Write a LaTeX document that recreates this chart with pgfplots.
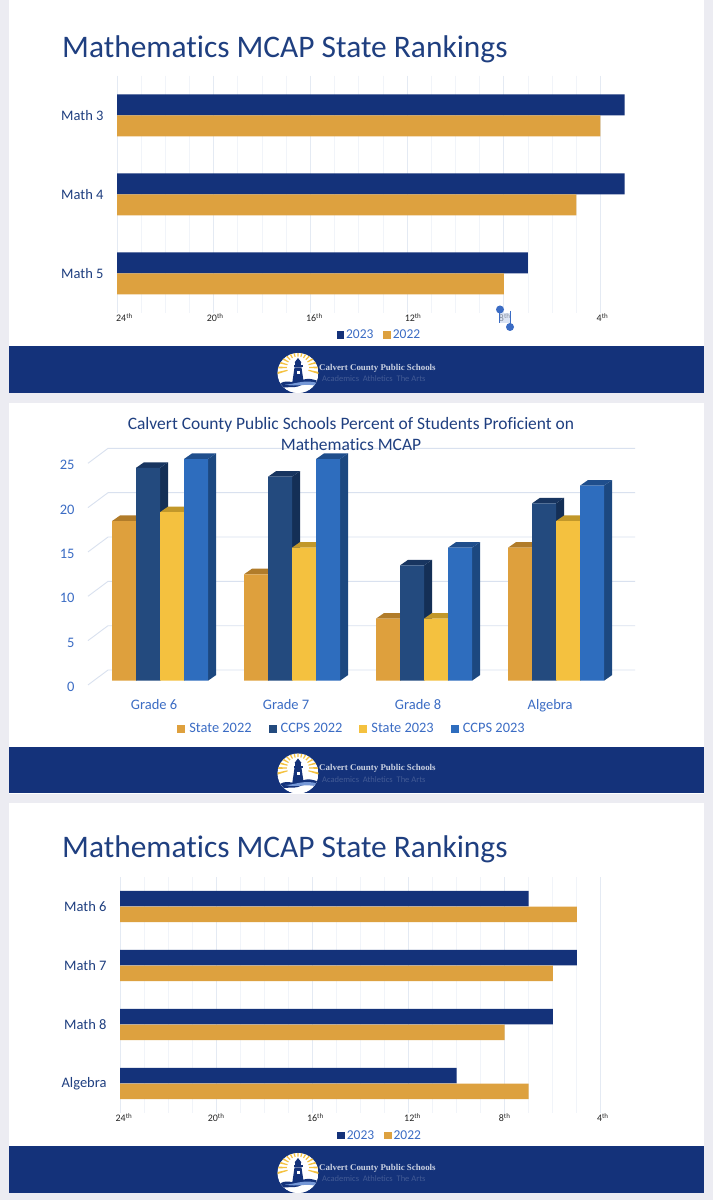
\documentclass[border=0pt]{standalone}
\usepackage{pgfplots}
\pgfplotsset{compat=1.18}
\usepackage{fontspec}
\setmainfont{Carlito}[Ligatures=NoCommon]
\newfontfamily\slab{Liberation Serif}
\definecolor{pagebg}{HTML}{ECECF2}
\definecolor{navy}{HTML}{14327A}
\definecolor{gold}{HTML}{DDA13F}
\definecolor{titleblue}{HTML}{1F3F80}
\definecolor{labelblue}{HTML}{1F3F80}
\definecolor{axblue}{HTML}{3B6CC4}
\definecolor{gridmaj}{HTML}{E4EAF3}
\definecolor{gridmin}{HTML}{F1F4F9}
\definecolor{wall}{HTML}{D9E1EF}
\definecolor{sA}{HTML}{DEA03D}\definecolor{sAt}{HTML}{B17C2A}
\definecolor{sB}{HTML}{234A7E}\definecolor{sBs}{HTML}{142F56}\definecolor{sBt}{HTML}{183560}
\definecolor{sC}{HTML}{F4C13F}\definecolor{sCt}{HTML}{C2982A}
\definecolor{sD}{HTML}{2E6DBE}\definecolor{sDs}{HTML}{1C4880}\definecolor{sDt}{HTML}{1F4E8C}
\newcommand\fs[1]{\fontsize{#1}{#1}\selectfont}
% tick label shifted right by #2 pt from its gridline, as in the reference
\newcommand\lab[2]{\hspace*{#2pt}#1\textsuperscript{th}}
\pgfplotsset{
  sq/.style={legend image code/.code={\fill[##1,draw=none] (0pt,-3.6pt) rectangle (7.4pt,3.8pt);}},
  sqb/.style={legend image code/.code={\fill[##1,draw=none] (0pt,-3.6pt) rectangle (8pt,3.8pt);\path[draw=none,fill=none] (0pt,0pt) -- (10pt,0pt);}},
  rank/.style={
    scale only axis, xmin=0, xmax=23, y dir=reverse,
    xtick={0,4,8,12,16,20}, minor x tick num=3,
    x filter/.code={\pgfmathparse{24-##1}},
    xmajorgrids, xminorgrids,
    major grid style={gridmaj,line width=.8pt}, minor grid style={gridmin,line width=.8pt},
    axis line style={draw=none}, tick style={draw=none}, minor tick style={draw=none},
    x tick label style={font=\fs{10}, text=black!85},
    xtick pos=bottom, ytick pos=left,
    tick label style={inner sep=0pt},
    y tick label style={font=\fs{14.5}, text=labelblue},
    tick align=outside,
    legend style={draw=none,fill=none,font=\fs{13.5},text=axblue,legend columns=2,anchor=center,
      /tikz/every even column/.append style={column sep=8pt}, inner sep=0pt},
    legend cell align=left,
  },
}
\newcommand\faces[4]{%
  \pgfmathsetmacro\xr{#1+0.1818}%
  \pgfmathsetmacro\xrd{#1+0.1818+0.0606}%
  \pgfmathsetmacro\xld{#1+0.0606}%
  \pgfmathsetmacro\vd{#2+0.63}%
  \addplot[forget plot,fill=#3,draw=none] coordinates {(\xr,0) (\xrd,0.63) (\xrd,\vd) (\xr,#2)} -- cycle;
  \addplot[forget plot,fill=#4,draw=none] coordinates {(#1,#2) (\xr,#2) (\xrd,\vd) (\xld,\vd)} -- cycle;
}
\newcommand\banner[1]{%
  \begin{scope}[shift={(0,#1)}]
    \fill[navy] (9,0) rectangle (704,46.5);
    \begin{scope}
      \clip (298,26.5) ellipse (20.5 and 20);
      \fill[white] (277,5) rectangle (319,47);
      \foreach \a in {-15,0,...,195}{
        \fill[sC] (298,21) -- ++({-\a-2.8}:25) -- ++({-\a+90}:2.4) -- cycle;}
      \fill[white] (298,21) circle (11);
      \fill[white] (277,34) rectangle (319,47);
      \fill[navy] (295,16) rectangle (301,19);
      \fill[navy] (298,11.5) -- (294.5,16) -- (301.5,16) -- cycle;
      \fill[navy] (293.5,19) rectangle (302.5,21);
      \fill[navy] (294.5,21) -- (301.5,21) -- (304,38) -- (292,38) -- cycle;
      \fill[white] (296.5,25) rectangle (299.5,28);
      \fill[navy] (277,39) .. controls (287,31) and (292,38) .. (298,35) .. controls (304,32) and (310,31) .. (319,35) -- (319,38) .. controls (310,35) and (305,37) .. (298,40) .. controls (292,42) and (285,39) .. (277,43) -- cycle;
      \fill[axblue!70] (285,38) .. controls (295,38) and (305,32) .. (319,37) -- (319,40) .. controls (305,36) and (298,41) .. (285,38) -- cycle;
    \end{scope}
    \node[anchor=west,inner sep=0,text=white!78!navy,font=\slab\bfseries\fs{8.9}] at (319,21.5) {Calvert County Public Schools};
    \node[anchor=west,inner sep=0,text=white!20!navy,font=\fs{8.5}] at (322,32.5) {Academics \ Athletics \ The Arts};
  \end{scope}
}
\begin{document}
\begin{tikzpicture}[x=1pt,y=1pt]
\useasboundingbox (0pt,0pt) rectangle (713pt,1200pt);
\fill[pagebg] (0pt,0pt) rectangle (713pt,1200pt);
\begin{scope}[y=-1pt,shift={(0pt,1200pt)}]
  \fill[white] (9,0) rectangle (704,393);
  \fill[white] (9,403) rectangle (704,794);
  \fill[white] (9,803) rectangle (704,1193);
  \banner{346.5}
  \banner{747}
  \banner{1146.5}
  \node[anchor=base west,inner sep=0,text=titleblue,font=\fs{31.4}] at (62,58) {Mathematics MCAP State Rankings};
  \node[anchor=base west,inner sep=0,text=titleblue,font=\fs{31.4}] at (62,858) {Mathematics MCAP State Rankings};
\end{scope}

% ---- chart 1
\begin{axis}[rank, at={(117pt,1124pt)}, anchor=north west, width=556pt, height=237pt,
  ymin=-0.5, ymax=2.5, ytick={0,1,2}, yticklabels={Math 3,Math 4,Math 5},
  xticklabels={\lab{24}{15},\lab{20}{3},\lab{16}{8},\lab{12}{12},\lab{8}{2},\lab{4}{4}},
  yticklabel style={xshift=-9pt,yshift=-0.5pt}, xticklabel style={yshift=4pt},
  legend style={at={(0.472,-0.094)}}]
\addlegendimage{sq,fill=navy}\addlegendentry{2023}
\addlegendimage{sq,fill=gold}\addlegendentry{2022}
\addplot[forget plot,xbar,bar width=0.2658,bar shift=-0.1329,fill=navy,draw=none] coordinates {(3,0) (3,1) (7,2)};
\addplot[forget plot,xbar,bar width=0.2658,bar shift=0.1329,fill=gold,draw=none] coordinates {(4,0) (5,1) (8,2)};
\end{axis}

% ---- chart 3
\begin{axis}[rank, at={(120pt,323pt)}, anchor=north west, width=553pt, height=236pt,
  ymin=-0.5, ymax=3.5, ytick={0,1,2,3}, yticklabels={Math 6,Math 7,Math 8,Algebra},
  xticklabels={\lab{24}{8},\lab{20}{0},\lab{16}{6},\lab{12}{8},\lab{8}{0},\lab{4}{4}},
  yticklabel style={xshift=-9pt,yshift=-0.5pt}, xticklabel style={yshift=4pt},
  legend style={at={(0.4705,-0.097)}}]
\addlegendimage{sq,fill=navy}\addlegendentry{2023}
\addlegendimage{sq,fill=gold}\addlegendentry{2022}
\addplot[forget plot,xbar,bar width=0.2627,bar shift=-0.1314,fill=navy,draw=none] coordinates {(7,0) (5,1) (6,2) (10,3)};
\addplot[forget plot,xbar,bar width=0.2627,bar shift=0.1314,fill=gold,draw=none] coordinates {(5,0) (6,1) (8,2) (7,3)};
\end{axis}

% ---- chart 2
\begin{axis}[scale only axis, at={(88pt,510pt)}, anchor=south west, width=547pt, height=245pt,
  xmin=-0.5455, xmax=3.598, ymin=-1.05, ymax=26.58,
  axis line style={draw=none}, tick style={draw=none},
  xtick={-0.045,0.955,1.955,2.955}, xticklabels={Grade 6,Grade 7,Grade 8,Algebra},
  ytick={-0.48,4.52,9.52,14.52,19.52,24.52}, yticklabels={0,5,10,15,20,25},
  tick label style={font=\fs{14.5},text=axblue},
  xticklabel style={yshift=-6pt}, yticklabel style={xshift=-10pt,yshift=-2pt},
  legend style={draw=none,fill=none,font=\fs{14.4},text=axblue,legend columns=4,anchor=center,
    at={(0.4826,-0.159)},inner sep=0pt,/tikz/every even column/.append style={column sep=15pt}},
  legend cell align=left, clip=false]
\addlegendimage{sqb,fill=sA}\addlegendentry{State 2022}
\addlegendimage{sqb,fill=sB}\addlegendentry{CCPS 2022}
\addlegendimage{sqb,fill=sC}\addlegendentry{State 2023}
\addlegendimage{sqb,fill=sD}\addlegendentry{CCPS 2023}
\addplot[forget plot,wall,line width=.9pt] coordinates {(-0.5455,-0.48) (-0.394,1.2) (3.598,1.2)};
\addplot[forget plot,wall,line width=.9pt] coordinates {(-0.5455,4.52) (-0.394,6.2) (3.598,6.2)};
\addplot[forget plot,wall,line width=.9pt] coordinates {(-0.5455,9.52) (-0.394,11.2) (3.598,11.2)};
\addplot[forget plot,wall,line width=.9pt] coordinates {(-0.5455,14.52) (-0.394,16.2) (3.598,16.2)};
\addplot[forget plot,wall,line width=.9pt] coordinates {(-0.5455,19.52) (-0.394,21.2) (3.598,21.2)};
\addplot[forget plot,wall,line width=.9pt] coordinates {(-0.5455,24.52) (-0.394,26.2) (3.598,26.2)};
% State 2022
\faces{-0.3636}{18}{sAt}{sAt}\faces{0.6364}{12}{sAt}{sAt}\faces{1.6364}{7}{sAt}{sAt}\faces{2.6364}{15}{sAt}{sAt}
\addplot[forget plot,ybar,bar width=0.1818,bar shift=-0.2727,fill=sA,draw=none] coordinates {(0,18) (1,12) (2,7) (3,15)};
% CCPS 2022
\faces{-0.1818}{24}{sBs}{sBt}\faces{0.8182}{23}{sBs}{sBt}\faces{1.8182}{13}{sBs}{sBt}\faces{2.8182}{20}{sBs}{sBt}
\addplot[forget plot,ybar,bar width=0.1818,bar shift=-0.0909,fill=sB,draw=none] coordinates {(0,24) (1,23) (2,13) (3,20)};
% State 2023
\faces{0}{19}{sCt}{sCt}\faces{1}{15}{sCt}{sCt}\faces{2}{7}{sCt}{sCt}\faces{3}{18}{sCt}{sCt}
\addplot[forget plot,ybar,bar width=0.1818,bar shift=0.0909,fill=sC,draw=none] coordinates {(0,19) (1,15) (2,7) (3,18)};
% CCPS 2023
\faces{0.1818}{25}{sDs}{sDt}\faces{1.1818}{25}{sDs}{sDt}\faces{2.1818}{15}{sDs}{sDt}\faces{3.1818}{22}{sDs}{sDt}
\addplot[forget plot,ybar,bar width=0.1818,bar shift=0.2727,fill=sD,draw=none] coordinates {(0,25) (1,25) (2,15) (3,22)};
\end{axis}

\begin{scope}[y=-1pt,shift={(0pt,1200pt)}]
  \node[align=center,inner sep=0,text=titleblue,font=\fs{17.45}] at (351,434) {Calvert County Public Schools Percent of Students Proficient on\\[4.5pt]Mathematics MCAP};
  % selection handles on the 8th label
  \fill[axblue!30,opacity=.6] (499.5,313) rectangle (510,323.5);
  \draw[axblue,line width=.8pt] (499.5,313) -- (499.5,323.5) (510,311) -- (510,327);
  \fill[axblue] (500,309.5) circle (4);
  \fill[axblue] (510,327) circle (4);
\end{scope}
\end{tikzpicture}
\end{document}
